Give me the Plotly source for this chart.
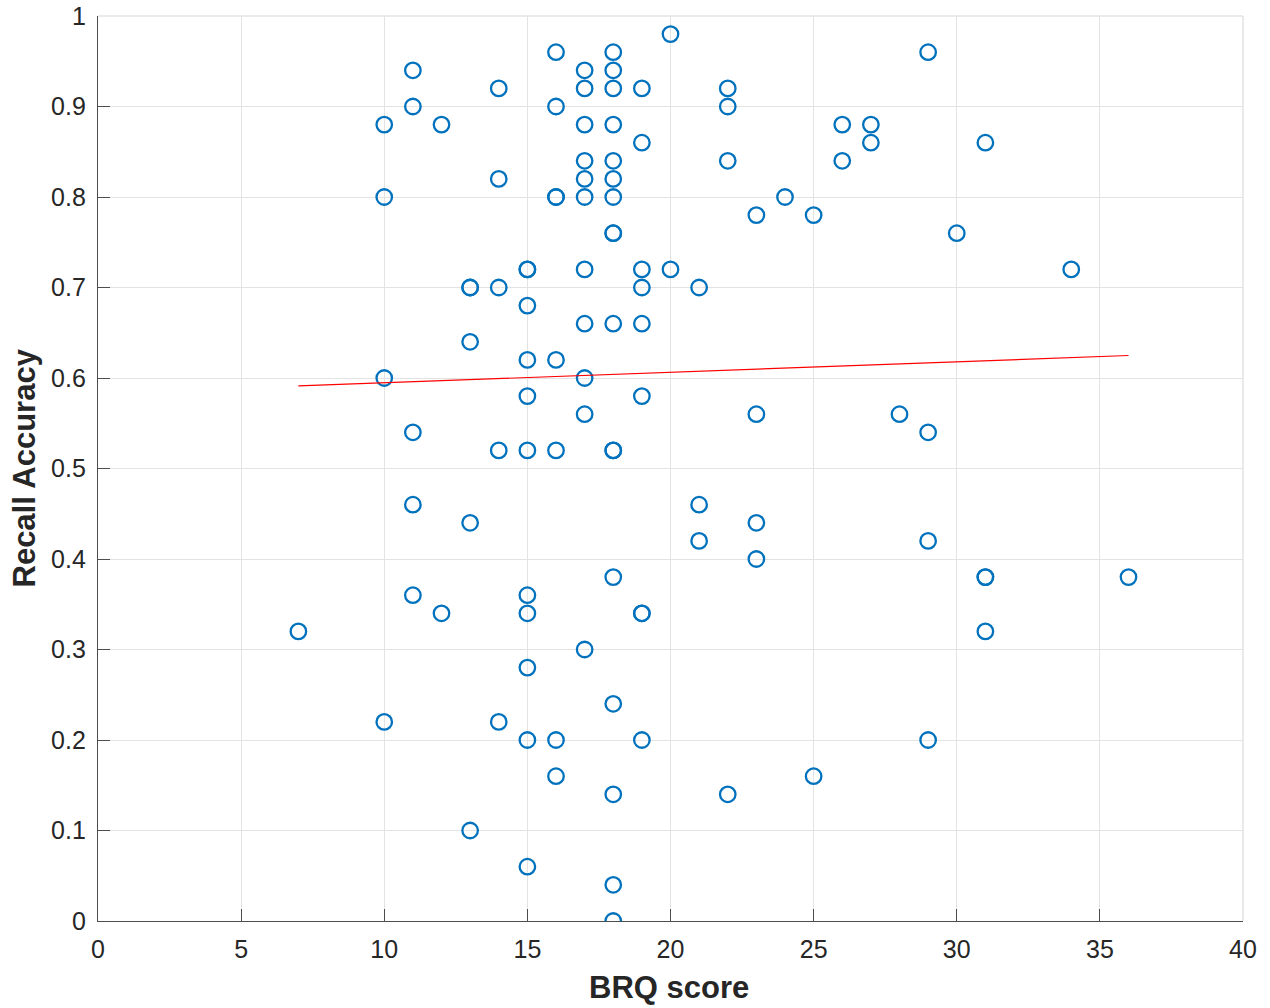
import numpy as np
import plotly.graph_objects as go

# BRQ score vs recall accuracy, one entry per participant
brq_score = [
    7,
    10, 10, 10, 10,
    11, 11, 11, 11, 11,
    12, 12,
    13, 13, 13, 13, 13,
    14, 14, 14, 14, 14,
    15, 15, 15, 15, 15, 15, 15, 15, 15, 15, 15,
    16, 16, 16, 16, 16, 16, 16, 16,
    17, 17, 17, 17, 17, 17, 17, 17, 17, 17, 17,
    18, 18, 18, 18, 18, 18, 18, 18, 18, 18, 18, 18, 18, 18, 18, 18, 18,
    19, 19, 19, 19, 19, 19, 19, 19, 19,
    20, 20,
    21, 21, 21,
    22, 22, 22, 22,
    23, 23, 23, 23,
    24,
    25, 25,
    26, 26,
    27, 27,
    28,
    29, 29, 29, 29,
    30,
    31, 31, 31, 31,
    34,
    36,
]
recall_accuracy = [
    0.32,
    0.88, 0.80, 0.60, 0.22,
    0.94, 0.90, 0.54, 0.46, 0.36,
    0.88, 0.34,
    0.70, 0.70, 0.64, 0.44, 0.10,
    0.92, 0.82, 0.70, 0.52, 0.22,
    0.72, 0.72, 0.68, 0.62, 0.58, 0.52, 0.36, 0.34, 0.28, 0.20, 0.06,
    0.96, 0.90, 0.80, 0.80, 0.62, 0.52, 0.20, 0.16,
    0.94, 0.92, 0.88, 0.84, 0.82, 0.80, 0.72, 0.66, 0.60, 0.56, 0.30,
    0.96, 0.94, 0.92, 0.88, 0.84, 0.82, 0.80, 0.76, 0.76, 0.66, 0.52, 0.52, 0.38, 0.24, 0.14, 0.04, 0.00,
    0.92, 0.86, 0.72, 0.70, 0.66, 0.58, 0.34, 0.34, 0.20,
    0.98, 0.72,
    0.70, 0.46, 0.42,
    0.92, 0.90, 0.84, 0.14,
    0.78, 0.56, 0.44, 0.40,
    0.80,
    0.78, 0.16,
    0.88, 0.84,
    0.88, 0.86,
    0.56,
    0.96, 0.54, 0.42, 0.20,
    0.76,
    0.86, 0.38, 0.38, 0.32,
    0.72,
    0.38,
]

x_ticks = [0, 5, 10, 15, 20, 25, 30, 35, 40]
y_ticks = [0, 0.1, 0.2, 0.3, 0.4, 0.5, 0.6, 0.7, 0.8, 0.9, 1.0]
y_tick_labels = ["0", "0.1", "0.2", "0.3", "0.4", "0.5", "0.6", "0.7", "0.8", "0.9", "1"]

# least-squares line over the observed score range
slope, intercept = np.polyfit(brq_score, recall_accuracy, 1)
fit_x = np.array([min(brq_score), max(brq_score)])
fit_y = slope * fit_x + intercept

FONT = "Liberation Sans, Arial, Helvetica, sans-serif"
TEXT = "#262626"
AXIS = "#4d4d4d"
GRID = "#e3e3e3"

W, H = 1270, 1008
ML, MR, MT, MB = 98, 27, 16, 87
PW, PH = W - ML - MR, H - MT - MB

fig = go.Figure()
fig.add_trace(go.Scatter(
    x=brq_score, y=recall_accuracy, mode="markers",
    marker=dict(symbol="circle-open", size=15.5, color="#0072BD",
                line=dict(width=2.3, color="#0072BD")),
    showlegend=False,
))
fig.add_trace(go.Scatter(
    x=fit_x, y=fit_y, mode="lines",
    line=dict(color="#ff0000", width=1.2),
    showlegend=False,
))

fig.update_layout(
    width=W, height=H,
    margin=dict(l=ML, r=MR, t=MT, b=MB),
    paper_bgcolor="white", plot_bgcolor="white",
    font=dict(family=FONT, color=TEXT, size=25),
    xaxis=dict(
        range=[0, 40], tickvals=x_ticks, ticks="inside", ticklen=12,
        tickwidth=1.3, tickcolor=AXIS, showline=True, linecolor=AXIS,
        linewidth=1.3, showgrid=True, gridcolor=GRID, gridwidth=1,
        zeroline=False, tickfont=dict(size=25, color=TEXT),
        ticklabelstandoff=6, automargin=False,
    ),
    yaxis=dict(
        range=[0, 1], tickvals=y_ticks, ticktext=y_tick_labels,
        ticks="inside", ticklen=12, tickwidth=1.3, tickcolor=AXIS,
        showline=True, linecolor=AXIS, linewidth=1.3, showgrid=True,
        gridcolor=GRID, gridwidth=1, zeroline=False,
        tickfont=dict(size=25, color=TEXT),
        ticklabelstandoff=6, automargin=False,
    ),
)

# axis titles
fig.add_annotation(
    text="<b>BRQ score</b>", xref="paper", yref="paper",
    x=(669 - ML) / PW, y=(MT + PH - 987) / PH, xanchor="center", yanchor="middle",
    showarrow=False, font=dict(size=31, color=TEXT, family=FONT),
)
fig.add_annotation(
    text="<b>Recall Accuracy</b>", xref="paper", yref="paper",
    x=(24 - ML) / PW, y=0.5, xanchor="center", yanchor="middle", textangle=-90,
    showarrow=False, font=dict(size=31, color=TEXT, family=FONT),
)

# light frame on the top and right edges
fig.add_shape(type="line", xref="paper", yref="paper", x0=0, x1=1, y0=1, y1=1,
              line=dict(color=GRID, width=1.5))
fig.add_shape(type="line", xref="paper", yref="paper", x0=1, x1=1, y0=0, y1=1,
              line=dict(color=GRID, width=1.5))

fig.write_html("out.html")
